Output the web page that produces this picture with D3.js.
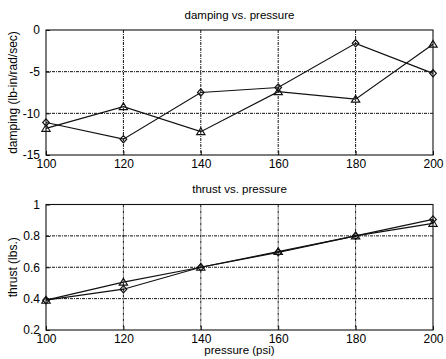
<!DOCTYPE html>
<html>
<head>
<meta charset="utf-8">
<script src="https://cdn.jsdelivr.net/npm/d3@7"></script>
<style>
  html, body { margin: 0; padding: 0; background: #fff; }
  svg { display: block; font-family: "Liberation Sans", Arial, sans-serif; }
</style>
</head>
<body>
<svg id="chart" width="446" height="359"></svg>
<script>
// Test pressures (psi)
const pressure = [100, 120, 140, 160, 180, 200];

// Damping (lb-in/rad/sec), two runs
const dampingDiamond  = [-11.1, -13.1, -7.5, -6.9, -1.6, -5.2];
const dampingTriangle = [-11.8, -9.2, -12.2, -7.4, -8.3, -1.7];

// Thrust (lbs.), two runs
const thrustDiamond  = [0.39, 0.46, 0.60, 0.695, 0.80, 0.905];
const thrustTriangle = [0.39, 0.505, 0.60, 0.70, 0.80, 0.88];

// Axis ticks
const xTicks = [100, 120, 140, 160, 180, 200];
const dampingTicks = [0, -5, -10, -15];
const thrustTicks = [1, 0.8, 0.6, 0.4, 0.2];

const svg = d3.select("#chart");
const left = 46, right = 433;

const x = d3.scaleLinear().domain([100, 200]).range([left, right]);

function panel(opts) {
  const y = d3.scaleLinear().domain(opts.domain).range([opts.bottom, opts.top]);
  const g = svg.append("g");

  // grid
  g.append("g").selectAll("line.vx")
    .data(xTicks.slice(1, -1))
    .join("line")
    .attr("x1", d => x(d)).attr("x2", d => x(d))
    .attr("y1", opts.top).attr("y2", opts.bottom)
    .attr("stroke", "#111").attr("stroke-width", 1)
    .attr("stroke-dasharray", "3,1,1,1");
  g.append("g").selectAll("line.hy")
    .data(opts.ticks.filter(t => t !== opts.domain[0] && t !== opts.domain[1]))
    .join("line")
    .attr("x1", left).attr("x2", right)
    .attr("y1", d => y(d)).attr("y2", d => y(d))
    .attr("stroke", "#111").attr("stroke-width", 1)
    .attr("stroke-dasharray", "3,1,1,1");

  // frame
  g.append("rect")
    .attr("x", left).attr("y", opts.top)
    .attr("width", right - left).attr("height", opts.bottom - opts.top)
    .attr("fill", "none").attr("stroke", "#111").attr("stroke-width", 1.1);

  // axes (labels only, ticks drawn inward)
  const xAxis = d3.axisBottom(x).tickValues(xTicks).tickSizeInner(-4).tickSizeOuter(0).tickPadding(6);
  const gx = g.append("g").attr("transform", `translate(0,${opts.bottom})`).call(xAxis);
  const yAxis = d3.axisLeft(y).tickValues(opts.ticks).tickSizeInner(-4).tickSizeOuter(0).tickPadding(6)
    .tickFormat(d => String(d));
  const gy = g.append("g").attr("transform", `translate(${left},0)`).call(yAxis);
  [gx, gy].forEach(a => {
    a.select(".domain").remove();
    a.selectAll("line").attr("stroke", "#111");
    a.selectAll("text").attr("fill", "#000").attr("font-size", "12px")
      .attr("font-family", "Liberation Sans, Arial, sans-serif");
  });
  gx.selectAll("text").attr("dy", "0.62em");

  // title
  g.append("text").attr("x", (left + right) / 2).attr("y", opts.titleY)
    .attr("text-anchor", "middle").attr("font-size", "11.5px").text(opts.title);

  // y label
  g.append("text")
    .attr("transform", `translate(17,${(opts.top + opts.bottom) / 2}) rotate(-90)`)
    .attr("text-anchor", "middle").attr("font-size", "12px").text(opts.ylabel);

  const line = d3.line().x((d, i) => x(pressure[i])).y(d => y(d));
  [opts.s1, opts.s2].forEach(s => {
    g.append("path").datum(s).attr("d", line)
      .attr("fill", "none").attr("stroke", "#111").attr("stroke-width", 1.2);
  });

  // diamond markers
  g.append("g").selectAll("path")
    .data(opts.s1).join("path")
    .attr("transform", (d, i) => `translate(${x(pressure[i])},${y(d)})`)
    .attr("d", "M0,-3.6L3.3,0L0,3.6L-3.3,0Z")
    .attr("fill", "none").attr("stroke", "#111").attr("stroke-width", 1.2);
  // triangle markers
  g.append("g").selectAll("path")
    .data(opts.s2).join("path")
    .attr("transform", (d, i) => `translate(${x(pressure[i])},${y(d)})`)
    .attr("d", "M0,-3.8L4.2,3L-4.2,3Z")
    .attr("fill", "none").attr("stroke", "#111").attr("stroke-width", 1.1);
}

panel({
  domain: [-15, 0], ticks: dampingTicks, top: 30, bottom: 155,
  title: "damping vs. pressure", titleY: 19,
  ylabel: "damping (lb-in/rad/sec)",
  s1: dampingDiamond, s2: dampingTriangle
});

panel({
  domain: [0.2, 1], ticks: thrustTicks, top: 204.5, bottom: 330,
  title: "thrust vs. pressure", titleY: 193,
  ylabel: "thrust (lbs.)",
  s1: thrustDiamond, s2: thrustTriangle
});

svg.append("text").attr("x", (left + right) / 2).attr("y", 354)
  .attr("text-anchor", "middle").attr("font-size", "11.5px").text("pressure (psi)");
</script>
</body>
</html>
